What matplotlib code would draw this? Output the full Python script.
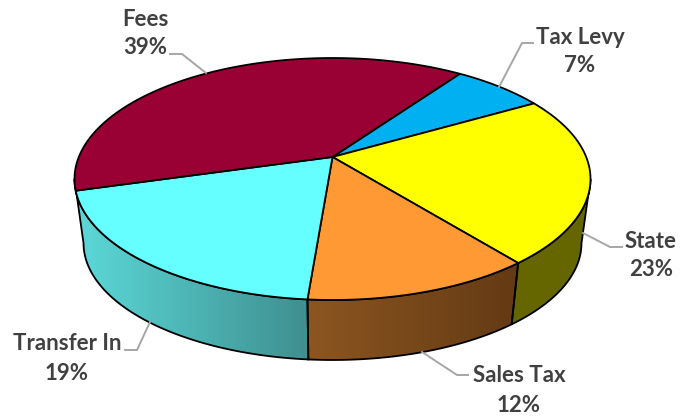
import matplotlib
matplotlib.use("Agg")
import matplotlib.pyplot as plt
from matplotlib.colors import LinearSegmentedColormap
from matplotlib.patches import Polygon
import numpy as np

plt.rcParams["font.family"] = ["Lato", "DejaVu Sans"]

# clockwise, starting at the Tax Levy / Fees edge
names = ["Tax Levy", "State", "Sales Tax", "Transfer In", "Fees"]
shares = [6.9, 22.51, 12.1, 19.3, 39.19]
top_colors = ["#00B0F0", "#FFFF00", "#FF9933", "#66FFFF", "#990033"]
wall_colors = [None, ("#666600", "#666600"), ("#8C5620", "#643A14"), ("#5CD9D9", "#3F8F8F"), None]

label_pos = [(580, 37), (651, 241), (519, 376), (67, 344), (145, 19)]
leaders = [
    [(533, 43), (522, 43), (499, 87)],
    [(622, 247), (610, 247), (583, 233)],
    [(468, 375), (457, 375), (422, 352)],
    [(125, 350), (137, 350), (150, 322)],
    [(170, 54), (182, 54), (206, 73)],
]

start_angle = 35.2
# left and right limit of the visible side wall
wall_from, wall_to = 100.5, 259.5

# perspective of the disc, all in pixels
cx, cy = 332.5, 157
rx, ry = 253.7, 117
k = 0.1818
base_scale, base_cy = 0.965, 222


def project(angle, base=False):
    t = np.radians(angle)
    u, v = np.sin(t), np.cos(t)
    w = 1 + k * v
    if base:
        return cx + base_scale * rx * u / w, base_cy - base_scale * ry * v / w
    return cx + rx * u / w, cy - ry * v / w


def arc(a0, a1, base=False):
    x, y = project(np.linspace(a0, a1, 120), base)
    return np.column_stack([x, y])


fig = plt.figure(figsize=(6.8, 4.16), dpi=100)
ax = fig.add_axes([0, 0, 1, 1])

edges = start_angle + np.concatenate([[0], np.cumsum(shares)]) * 3.6

# side walls first, the top faces cover whatever is behind them
for i in range(len(names)):
    if wall_colors[i] is None:
        continue
    a0 = max(edges[i], wall_from)
    a1 = edges[i + 1]
    if names[i] == "Transfer In":
        a1 = wall_to
    pts = np.vstack([arc(a0, a1), arc(a1, a0, base=True)])
    poly = Polygon(pts, closed=True, facecolor="none", edgecolor="black", lw=1.3, zorder=2)
    ax.add_patch(poly)
    cmap = LinearSegmentedColormap.from_list("wall", wall_colors[i])
    grad = np.linspace(0, 1, 256).reshape(1, -1)
    x0, x1 = pts[:, 0].min(), pts[:, 0].max()
    img = ax.imshow(grad, cmap=cmap, extent=[x0, x1, pts[:, 1].max(), pts[:, 1].min()],
                    aspect="auto", zorder=1)
    img.set_clip_path(Polygon(pts, closed=True, transform=ax.transData))

for i in range(len(names)):
    pts = np.vstack([[cx, cy], arc(edges[i], edges[i + 1])])
    ax.add_patch(Polygon(pts, closed=True, facecolor=top_colors[i], edgecolor="black",
                         lw=1.3, joinstyle="round", zorder=3))

for name, share, pos, line in zip(names, shares, label_pos, leaders):
    xs, ys = zip(*line)
    ax.plot(xs, ys, color="#A6A6A6", lw=1.4, zorder=4)
    ax.text(pos[0], pos[1], name, ha="center", va="center", fontsize=16, fontweight="bold", color="#404040")
    ax.text(pos[0], pos[1] + 29, f"{share:.0f}%", ha="center", va="center", fontsize=16, fontweight="bold", color="#404040")

ax.set_xlim(0, 680)
ax.set_ylim(416, 0)
ax.axis("off")
fig.savefig("out.png", dpi=100)
